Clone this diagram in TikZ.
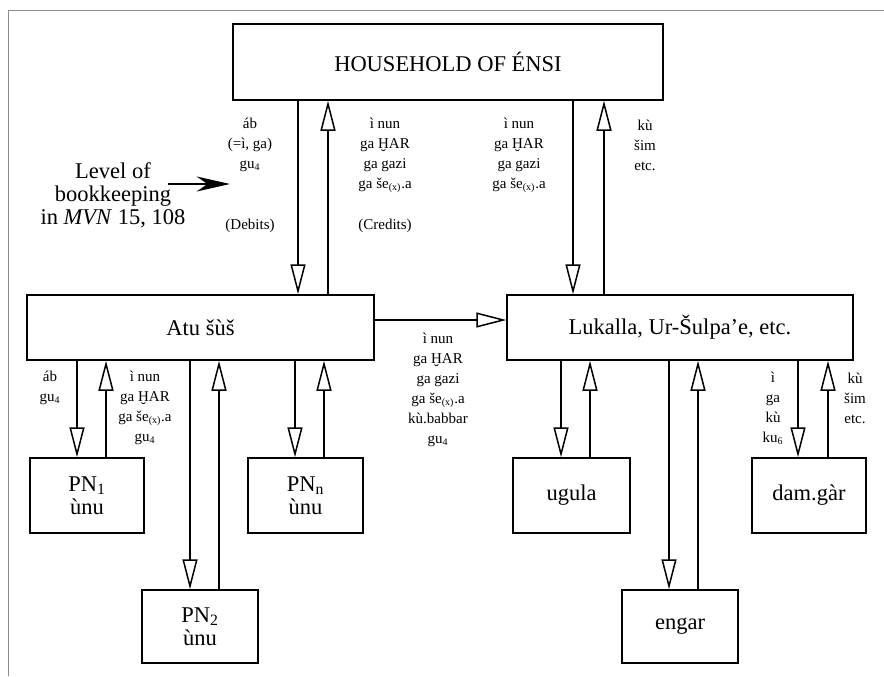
\documentclass[tikz,border=0pt]{standalone}
\usepackage{fontspec}
\setmainfont{Liberation Serif}
\usetikzlibrary{arrows.meta}
\newcommand{\Har}{Ḫ}
\newcommand{\sex}{še\textsubscript{(x)}}

\begin{document}
\begin{tikzpicture}[x=0.6pt, y=-0.6pt, line width=0.9pt,
    >={Triangle[open, length=18pt, width=9pt]}, ->,
    box/.style={draw, inner sep=0pt, align=center,
      font=\fontsize{13.5}{13.8}\selectfont},
    lbl/.style={align=center, font=\fontsize{9}{12}\selectfont}]
    \useasboundingbox (0,0) rectangle (884,676);
    \draw[-, black!45, line width=0.6pt] (8,676) -- (8,10) -- (884,10);

    \node[box, minimum width=258pt, minimum height=45.6pt] (hh) at (448,62) {HOUSEHOLD OF ÉNSI};
    \node[box, minimum width=208.2pt, minimum height=39pt] (atu) at (200.5,327.5) {Atu šùš};
    \node[box, minimum width=207.6pt, minimum height=39pt] (luk) at (680,327.5) {Lukalla, Ur-Šulpa'e, etc.};
    \node[box, minimum width=68.4pt, minimum height=45pt] (pn1) at (87,495.5) {PN\textsubscript{1}\\ùnu};
    \node[box, minimum width=69pt, minimum height=45pt] (pnn) at (305.5,495.5) {PN\textsubscript{n}\\ùnu};
    \node[box, minimum width=69.6pt, minimum height=43.8pt] (pn2) at (200,626.5) {PN\textsubscript{2}\\ùnu};
    \node[box, minimum width=70.2pt, minimum height=45pt] (ug) at (571.5,495.5) {ugula};
    \node[box, minimum width=68.4pt, minimum height=45pt] (dam) at (809,495.5) {dam.gàr};
    \node[box, minimum width=69.6pt, minimum height=43.8pt] (en) at (680,626.5) {engar};

    % debits go down, credits go up
    \foreach \up/\lo/\xd/\xu in {hh/atu/298/328, hh/luk/573/604, atu/pn1/77/106,
        atu/pn2/190/219, atu/pnn/295/324, luk/ug/561/590, luk/en/669/698, luk/dam/798/828}{
      \path (\xd,0) coordinate (d) (\xu,0) coordinate (u);
      \draw (\up.south -| d) -- (\lo.north -| d);
      \draw (\lo.north -| u) -- (\up.south -| u);
    }
    \path (0,320) coordinate (h);
    \draw (atu.east |- h) -- (luk.west |- h);

    \node[align=center, font=\fontsize{13.5}{13.8}\selectfont] (lvl) at (113,195)
      {Level of\\bookkeeping\\in \textit{MVN} 15, 108};
    \coordinate (lvlfrom) at (168,184);
    \coordinate (lvlto) at (230,184);
    \draw[-{Stealth[length=20pt, width=9pt]}] (lvlfrom) -- (lvlto);

    \node[lbl] (deb) at (250,145) {áb\\(=ì, ga)\\gu\textsubscript{4}};
    \node[lbl] (debt) at (250,226) {(Debits)};
    \node[lbl] (cre) at (385,155) {ì nun\\ga \Har AR\\ga gazi\\ga \sex.a};
    \node[lbl] (cret) at (385,226) {(Credits)};
    \node[lbl] (cre2) at (519,155) {ì nun\\ga \Har AR\\ga gazi\\ga \sex.a};
    \node[lbl] (deb2) at (645,145) {kù\\šim\\etc.};
    \node[lbl] (deb3) at (50,388) {áb\\gu\textsubscript{4}};
    \node[lbl] (cre3) at (145,408) {ì nun\\ga \Har AR\\ga \sex.a\\gu\textsubscript{4}};
    \node[lbl] (mid) at (438,390) {ì nun\\ga \Har AR\\ga gazi\\ga \sex.a\\kù.babbar\\gu\textsubscript{4}};
    \node[lbl] (deb4) at (773,408) {ì\\ga\\kù\\ku\textsubscript{6}};
    \node[lbl] (cre4) at (855,398) {kù\\šim\\etc.};
\end{tikzpicture}
\end{document}
